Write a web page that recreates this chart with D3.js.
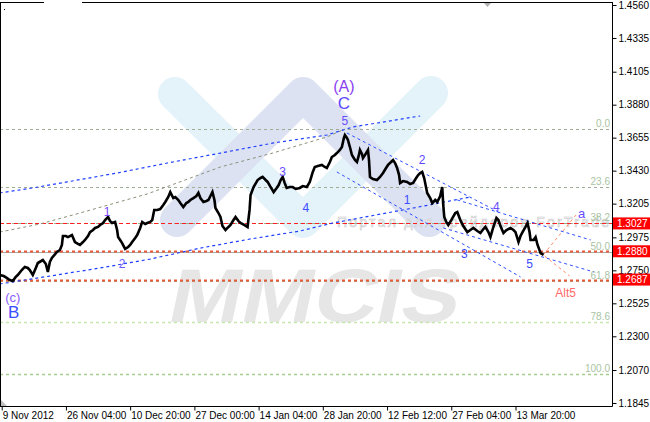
<!DOCTYPE html>
<html><head><meta charset="utf-8">
<script src="https://cdn.jsdelivr.net/npm/d3@7"></script>
<style>body{margin:0;background:#fff}svg{display:block}</style>
</head><body>
<svg id="c" width="650" height="422"></svg>
<script>
// ---------- DATA ----------
const priceTicks = [1.4560,1.4335,1.4105,1.3880,1.3655,1.3430,1.3205,1.2975,1.2750,1.2525,1.2300,1.2070,1.1845];
const timeTickIdx = [0,64,128,192,256,320,384,448,512];
const timeTickLabels = ["9 Nov 2012","26 Nov 04:00","10 Dec 20:00","27 Dec 00:00","14 Jan 04:00","28 Jan 20:00","12 Feb 12:00","27 Feb 04:00","13 Mar 20:00"];
// [bar index (4H bars), price]
const priceBars = [
[-2,1.2718],[2,1.2711],[5,1.2698],[8,1.2684],[11,1.2677],[14,1.2705],[16,1.2718],[20,1.2752],[23,1.2773],[26,1.2766],
[28,1.2752],[31,1.2718],[34,1.2766],[36,1.2800],[41,1.2820],[44,1.2793],[46,1.2739],[48,1.2807],[50,1.2834],[55,1.2875],
[58,1.2889],[60,1.2923],[61,1.2984],[64,1.2984],[66,1.2977],[70,1.2991],[73,1.2943],[76,1.2930],[78,1.2923],[81,1.2943],
[83,1.2957],[86,1.2984],[88,1.3011],[91,1.3025],[93,1.3039],[96,1.3046],[98,1.3059],[101,1.3073],[103,1.3093],[106,1.3114],
[108,1.3086],[110,1.3073],[113,1.3080],[115,1.3025],[116,1.2977],[118,1.2957],[120,1.2936],[123,1.2896],[126,1.2909],[128,1.2923],
[130,1.2943],[133,1.2971],[135,1.2991],[138,1.3039],[140,1.3080],[143,1.3066],[145,1.3073],[148,1.3080],[150,1.3093],[152,1.3162],
[155,1.3162],[158,1.3168],[161,1.3196],[163,1.3216],[166,1.3250],[168,1.3284],[171,1.3243],[173,1.3250],[176,1.3230],[178,1.3209],
[181,1.3182],[184,1.3209],[186,1.3216],[188,1.3230],[191,1.3243],[194,1.3257],[196,1.3278],[198,1.3243],[201,1.3216],[204,1.3223],
[206,1.3230],[208,1.3257],[210,1.3284],[212,1.3230],[213,1.3175],[216,1.3141],[218,1.3114],[220,1.3052],[223,1.3025],[226,1.3046],
[228,1.3059],[231,1.3093],[233,1.3114],[236,1.3086],[238,1.3073],[242,1.3059],[245,1.3046],[247,1.3162],[248,1.3264],[251,1.3318],
[255,1.3366],[258,1.3380],[260,1.3387],[263,1.3366],[265,1.3353],[268,1.3318],[271,1.3284],[274,1.3312],[276,1.3332],[278,1.3366],
[280,1.3387],[282,1.3346],[284,1.3312],[287,1.3318],[290,1.3318],[293,1.3305],[297,1.3312],[300,1.3325],[304,1.3318],[307,1.3353],
[310,1.3421],[312,1.3455],[315,1.3462],[319,1.3469],[322,1.3455],[324,1.3448],[327,1.3489],[329,1.3523],[332,1.3537],[334,1.3550],
[337,1.3571],[339,1.3591],[341,1.3653],[342,1.3673],[344,1.3653],[345,1.3639],[347,1.3591],[349,1.3537],[352,1.3503],[354,1.3489],
[356,1.3537],[357,1.3571],[359,1.3544],[360,1.3516],[362,1.3537],[365,1.3571],[366,1.3503],[367,1.3387],[370,1.3373],[374,1.3366],
[377,1.3387],[380,1.3414],[383,1.3448],[385,1.3469],[388,1.3489],[390,1.3503],[392,1.3482],[394,1.3448],[396,1.3400],[397,1.3346],
[400,1.3359],[404,1.3353],[407,1.3339],[410,1.3346],[413,1.3380],[415,1.3400],[417,1.3414],[419,1.3421],[421,1.3380],[424,1.3278],
[427,1.3243],[429,1.3209],[432,1.3230],[434,1.3216],[437,1.3257],[439,1.3318],[440,1.3196],[441,1.3114],[443,1.3080],[445,1.3059],
[448,1.3093],[452,1.3141],[454,1.3148],[457,1.3093],[460,1.3052],[464,1.3011],[467,1.3025],[470,1.3039],[474,1.3018],[477,1.3005],
[480,1.3032],[482,1.3046],[485,1.3011],[487,1.2977],[489,1.3025],[490,1.3046],[493,1.3107],[495,1.3093],[497,1.3052],[500,1.3005],
[503,1.3025],[507,1.3039],[510,1.3025],[512,1.3011],[515,1.2943],[517,1.2984],[519,1.3011],[522,1.3046],[524,1.3073],[526,1.3011],
[527,1.2957],[530,1.2957],[532,1.2977],[534,1.2923],[537,1.2868],[540,1.2855]
];
const fibLevels = [0.0,23.6,38.2,50.0,61.8,78.6,100.0];
const fibLabels = ["0.0","23.6","38.2","50.0","61.8","78.6","100.0"];
const fibHigh = 1.3711, fibLow = 1.2042;
const hLinePrices = [1.3070,1.2880,1.2687];
const hLineLabels = ["1.3027","1.2880","1.2687"];
const upperChannel = [[-2,1.3278],[31,1.3312],[65,1.3353],[115,1.3414],[165,1.3482],[218,1.3550],[271,1.3619],[324,1.3673],[350,1.3728],[417,1.3803]];
const grayChannel  = [[-2,1.3011],[38,1.3066],[78,1.3141],[145,1.3271],[218,1.3455],[270,1.3550],[324,1.3660],[342,1.3714]];
const lowerChannel = [[-2,1.2657],[48,1.2711],[98,1.2766],[148,1.2827],[198,1.2902],[248,1.2964],[297,1.3018],[330,1.3073],[410,1.3175],[467,1.3250]];
const downLines = [
  [[344,1.3687],[497,1.3141]],
  [[454,1.3230],[587,1.2957]],
  [[334,1.3421],[517,1.2705]],
  [[440,1.3039],[590,1.2739]]
];
const altUp   = [[540,1.2860],[574,1.3141]];
const altDown = [[541,1.2848],[566,1.2711]];
const waveLabels = [
  {t:"(A)", i:341, p:1.4007, s:16, c:"#8a3ff0"},
  {t:"C",   i:341, p:1.3885, s:17, c:"#5a48ff"},
  {t:"5",   i:342, p:1.3769, s:12, c:"#6a4cff"},
  {t:"3",   i:280, p:1.3421, s:12, c:"#6a4cff"},
  {t:"4",   i:303, p:1.3175, s:12, c:"#3c4cff"},
  {t:"1",   i:105, p:1.3148, s:12, c:"#7a4cff"},
  {t:"2",   i:120, p:1.2793, s:12, c:"#6a5cff"},
  {t:"(c)", i:11,  p:1.2568, s:13, c:"#8a5cff"},
  {t:"B",   i:12,  p:1.2459, s:17, c:"#3c4cff"},
  {t:"2",   i:419, p:1.3503, s:12, c:"#5a48ff"},
  {t:"1",   i:404, p:1.3230, s:12, c:"#3c4cff"},
  {t:"4",   i:493, p:1.3182, s:12, c:"#6a4cff"},
  {t:"3",   i:461, p:1.2862, s:12, c:"#3c4cff"},
  {t:"5",   i:526, p:1.2793, s:12, c:"#3c4cff"},
  {t:"a",   i:578, p:1.3141, s:13, c:"#6a4cff"},
  {t:"Alt5",i:562, p:1.2595, s:12, c:"#ff6a6a"}
];

// ---------- SCALES ----------
const svg = d3.select("#c");
const x = d3.scaleLinear().domain([0,512]).range([1.7,515.5]);
const y = d3.scaleLinear().domain([1.1845,1.4560]).range([403,5]);
const F = "'Liberation Sans', Arial, sans-serif";
const line = d3.line().x(d=>x(d[0])).y(d=>y(d[1]));
const plotR = 612.5, plotB = 406.5;

svg.append("clipPath").attr("id","plot").append("rect").attr("x",1).attr("y",3).attr("width",611).attr("height",403);
const g = svg.append("g").attr("clip-path","url(#plot)");

// ---------- watermark ----------
g.append("path").attr("d","M175,94 L303,221 L431,93").attr("fill","none")
 .attr("stroke","#e4f2fa").attr("stroke-width",34).attr("stroke-linecap","round").attr("stroke-linejoin","round");
g.append("path").attr("d","M177,220 L303,94 L429,220").attr("fill","none")
 .attr("stroke","#dde2f3").attr("stroke-width",34).attr("stroke-linecap","round").attr("stroke-linejoin","round");
g.append("text").text("MMCIS").attr("x",166).attr("y",322)
 .attr("transform","skewX(-12) translate(68,0)")
 .attr("font-family",F).attr("font-weight","bold").attr("font-size",76)
 .attr("textLength",290).attr("lengthAdjust","spacingAndGlyphs").attr("fill","#e6e6e6");
g.append("text").text("Портал для трейдеров ForTrade").attr("x",337).attr("y",227)
 .attr("font-family",F).attr("font-size",14)
 .attr("textLength",272).attr("lengthAdjust","spacing")
 .attr("fill","#f2f2f2").attr("stroke","#c8c8c8").attr("stroke-width",0.5);

// ---------- fib levels ----------
const fibPrice = l => fibHigh - (fibHigh-fibLow)*l/100;
const fibColors = ["#9fae92","#9fae92","#9fae92","#a8a8a8","#a4ad86","#c6e6ad","#a6cc8e"];
fibLevels.forEach((l,k)=>{
  const yy = Math.round(y(fibPrice(l)))+0.5;
  g.append("line").attr("x1",0).attr("x2",plotR).attr("y1",yy).attr("y2",yy)
   .attr("stroke",fibColors[k]).attr("stroke-width",k>=5?1.5:1)
   .attr("stroke-dasharray",k===3?null:"3,3");
  g.append("text").text(fibLabels[k]).attr("x",610).attr("y",yy-3).attr("text-anchor","end")
   .attr("font-family",F).attr("font-size",10).attr("fill","#a9c4a4");
});

// ---------- horizontal red lines ----------
hLinePrices.forEach((p,k)=>{
  const yy = Math.round(y(p))+0.5;
  g.append("line").attr("x1",0).attr("x2",plotR).attr("y1",yy).attr("y2",yy)
   .attr("stroke",k===0?"#ff2020":"#e85a3a").attr("stroke-width",k===0?1:2)
   .attr("stroke-dasharray",k===0?"4,3":"3,3");
});

// ---------- channel / trend lines ----------
g.append("path").attr("d",line(upperChannel)).attr("fill","none").attr("stroke","#2040ff").attr("stroke-width",1.2).attr("stroke-dasharray","3,3");
g.append("path").attr("d",line(grayChannel)).attr("fill","none").attr("stroke","#8a9078").attr("stroke-width",1).attr("stroke-dasharray","3,3");
g.append("path").attr("d",line(lowerChannel)).attr("fill","none").attr("stroke","#2040ff").attr("stroke-width",1.2).attr("stroke-dasharray","3,3");
downLines.forEach(dl=>{
  g.append("path").attr("d",line(dl)).attr("fill","none").attr("stroke","#3050ff").attr("stroke-width",1).attr("stroke-dasharray","3,3");
});
[altUp,altDown].forEach(dl=>{
  g.append("path").attr("d",line(dl)).attr("fill","none").attr("stroke","#ff8a6a").attr("stroke-width",1).attr("stroke-dasharray","3,3");
});

// ---------- price ----------
g.append("path").attr("d",line(priceBars)).attr("fill","none").attr("stroke","#000")
 .attr("stroke-width",2.6).attr("stroke-linejoin","miter");

// ---------- wave labels ----------
waveLabels.forEach(w=>{
  g.append("text").text(w.t).attr("x",x(w.i)).attr("y",y(w.p)).attr("text-anchor","middle")
   .attr("dominant-baseline","central").attr("font-family",F).attr("font-size",w.s).attr("fill",w.c);
});

// ---------- frame ----------
svg.append("line").attr("x1",0.5).attr("x2",0.5).attr("y1",2).attr("y2",plotB).attr("stroke","#000");
svg.append("line").attr("x1",0).attr("x2",44).attr("y1",2.5).attr("y2",2.5).attr("stroke","#000");
svg.append("line").attr("x1",82).attr("x2",plotR).attr("y1",2.5).attr("y2",2.5).attr("stroke","#000");
svg.append("rect").attr("x",4).attr("y",9).attr("width",1).attr("height",1).attr("fill","#000");
svg.append("path").attr("d","M484,3 L491,3 L487.5,7 Z").attr("fill","#b0b0b0");
svg.append("path").attr("d","M1,400 L1,406 L7,406 Z").attr("fill","#c0c0c0");

// ---------- axes ----------
const yAxis = d3.axisRight(y).tickValues(priceTicks).tickFormat(d3.format(".4f")).tickSize(4).tickPadding(2);
const ya = svg.append("g").attr("transform",`translate(${plotR},0)`).call(yAxis);
ya.select(".domain").attr("d",`M0,2V${plotB}`);
ya.selectAll("text").attr("font-family",F).attr("font-size",10).attr("fill","#000");

const xAxis = d3.axisBottom(x).tickValues(timeTickIdx).tickFormat((d,k)=>timeTickLabels[k]).tickSize(4).tickPadding(1);
const xa = svg.append("g").attr("transform",`translate(0,${plotB})`).call(xAxis);
xa.select(".domain").attr("d",`M0,0H${plotR}`);
xa.selectAll("text").attr("text-anchor","start").attr("dx",0.5).attr("font-family",F).attr("font-size",10).attr("fill","#000");

// ---------- price label boxes ----------
hLinePrices.forEach((p,k)=>{
  const yy = y(p);
  svg.append("rect").attr("x",613).attr("y",yy-6).attr("width",37).attr("height",12).attr("fill","#ff0000");
  svg.append("text").text(hLineLabels[k]).attr("x",617).attr("y",yy).attr("dominant-baseline","central")
   .attr("font-family",F).attr("font-size",10).attr("fill","#fff");
});
</script>
</body></html>
